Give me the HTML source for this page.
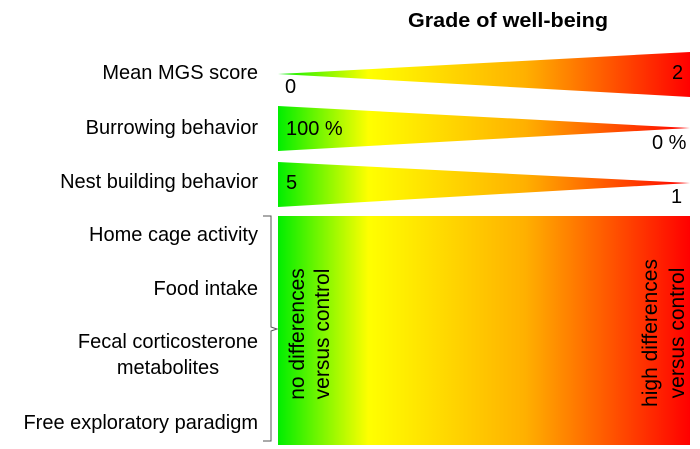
<!DOCTYPE html>
<html><head><meta charset="utf-8"><style>
html,body{margin:0;padding:0;background:#fff;}
svg{display:block;font-family:"Liberation Sans",sans-serif;}
</style></head><body>
<svg width="700" height="449" viewBox="0 0 700 449">
<defs>
<linearGradient id="g" x1="278" y1="0" x2="690" y2="0" gradientUnits="userSpaceOnUse">
<stop offset="0" stop-color="#00ee00"/>
<stop offset="0.22" stop-color="#ffff00"/>
<stop offset="0.6" stop-color="#ffb000"/>
<stop offset="1" stop-color="#ff0000"/>
</linearGradient>
</defs>
<text x="408" y="27" font-weight="bold" font-size="20" textLength="200" lengthAdjust="spacingAndGlyphs">Grade of well-being</text>
<g font-size="20" text-anchor="end" fill="#000">
<text x="258" y="79">Mean MGS score</text>
<text x="258" y="134">Burrowing behavior</text>
<text x="258" y="188">Nest building behavior</text>
<text x="258" y="241">Home cage activity</text>
<text x="258" y="295">Food intake</text>
<text x="258" y="348">Fecal corticosterone</text>
<text x="168" y="374" text-anchor="middle">metabolites</text>
<text x="258" y="429">Free exploratory paradigm</text>
</g>
<polygon points="278,74 690,52 690,97" fill="url(#g)"/>
<polygon points="278,106 278,151 690,128" fill="url(#g)"/>
<polygon points="278,162 278,207 690,183" fill="url(#g)"/>
<rect x="278" y="216" width="412" height="229" fill="url(#g)"/>
<path d="M263,216 L271,216 L271,327 L277,329 L271,331 L271,441 L263,441" fill="none" stroke="#555" stroke-width="1"/>
<g font-size="20">
<text x="285" y="93">0</text>
<text x="672" y="79">2</text>
<text x="286" y="135">100 %</text>
<text x="652" y="149">0 %</text>
<text x="286" y="189">5</text>
<text x="671" y="203">1</text>
</g>
<g font-size="21" text-anchor="middle">
<text transform="translate(304,334) rotate(-90)">no differences</text>
<text transform="translate(329,334) rotate(-90)">versus control</text>
<text transform="translate(657,333) rotate(-90)">high differences</text>
<text transform="translate(684,333) rotate(-90)">versus control</text>
</g>
</svg>
</body></html>
